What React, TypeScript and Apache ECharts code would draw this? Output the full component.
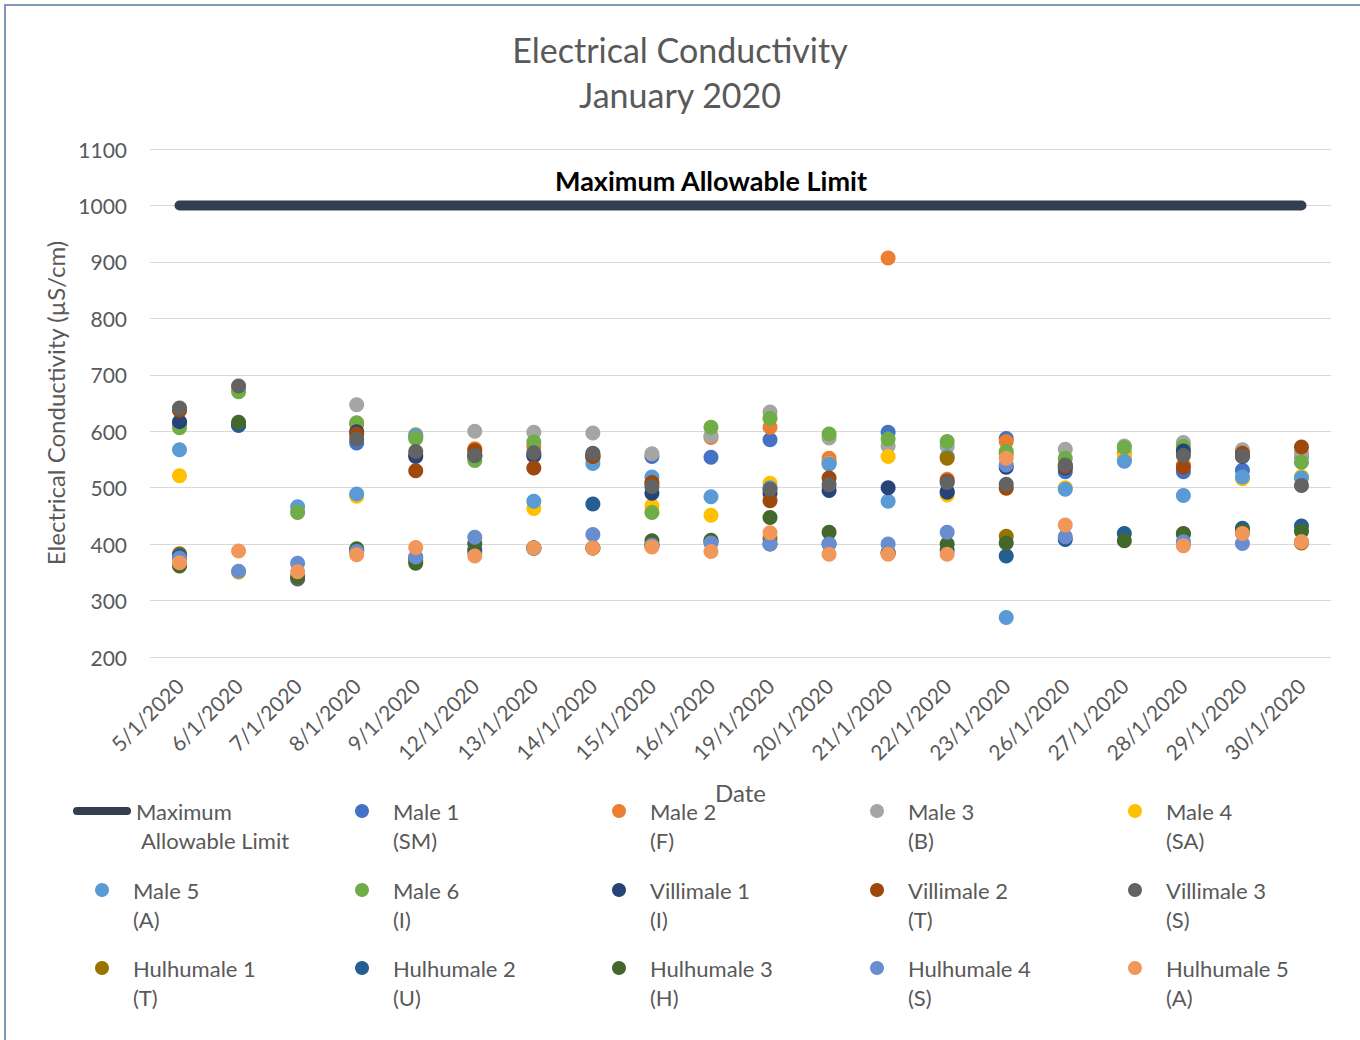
import React, { useEffect, useRef } from "react";
import * as echarts from "echarts";

const dates = ["5/1/2020", "6/1/2020", "7/1/2020", "8/1/2020", "9/1/2020", "12/1/2020", "13/1/2020", "14/1/2020", "15/1/2020", "16/1/2020", "19/1/2020", "20/1/2020", "21/1/2020", "22/1/2020", "23/1/2020", "26/1/2020", "27/1/2020", "28/1/2020", "29/1/2020", "30/1/2020"];

const limitName = "Maximum Allowable Limit";
const limitValues = [1000, 1000, 1000, 1000, 1000, 1000, 1000, 1000, 1000, 1000, 1000, 1000, 1000, 1000, 1000, 1000, 1000, 1000, 1000, 1000];

const male1 = [614, 610, null, 579, 558, 556, 556, 552, 555, 554, 585, 545, 598, 493, 587, 528, 550, 528, 531, 556];
const male2 = [637, null, null, 612, 590, 569, 573, 556, 507, 589, 607, 552, 907, 515, 582, 540, 561, 540, 560, 560];
const male3 = [640, 678, null, 647, 590, 600, 598, 597, 560, 592, 634, 588, 574, 573, 560, 568, 574, 580, 567, 560];
const male4 = [521, 350, null, 485, 594, 560, 463, 555, 468, 451, 508, 543, 555, 487, 560, 500, 555, 560, 516, 520];
const male5 = [567, null, 466, 489, 593, 555, 476, 543, 519, 484, 500, 542, 476, 555, 270, 497, 547, 486, 519, 517];
const male6 = [606, 670, 456, 615, 587, 548, 581, 560, 456, 607, 623, 595, 586, 582, 564, 552, 571, 573, 560, 545];
const villimale1 = [617, 612, null, 599, 555, 557, 558, 556, 490, null, 490, 495, 500, 492, 536, 535, null, 565, 555, null];
const villimale2 = [637, null, null, 595, 530, 566, 535, 555, 509, null, 477, 517, null, 512, 499, 537, null, 536, 561, 572];
const villimale3 = [641, 680, 338, 586, 564, 557, 562, 561, 502, null, 497, 505, null, 509, 506, 540, null, 557, 556, 504];
const hulhumale1 = [383, null, null, 388, 370, 385, 393, 393, 398, null, 410, null, null, 552, 414, null, null, 400, 420, 402];
const hulhumale2 = [380, 611, null, 390, 376, 390, 393, 471, 398, 404, 400, 400, 385, 389, 379, 408, 419, 418, 428, 432];
const hulhumale3 = [361, 616, 342, 392, 366, 401, 393, 393, 406, 407, 447, 421, 384, 400, 402, null, 406, 419, 423, 423];
const hulhumale4 = [375, 352, 366, 387, 377, 412, 392, 417, 398, 402, 400, 400, 400, 421, 540, 413, null, 404, 401, 404];
const hulhumale5 = [367, 388, 351, 381, 394, 379, 393, 393, 395, 387, 420, 382, 382, 382, 552, 434, null, 397, 419, 404];

const seriesNames = ["Male 1 (SM)", "Male 2 (F)", "Male 3 (B)", "Male 4 (SA)", "Male 5 (A)", "Male 6 (I)", "Villimale 1 (I)", "Villimale 2 (T)", "Villimale 3 (S)", "Hulhumale 1 (T)", "Hulhumale 2 (U)", "Hulhumale 3 (H)", "Hulhumale 4 (S)", "Hulhumale 5 (A)"];
const seriesData = [male1, male2, male3, male4, male5, male6, villimale1, villimale2, villimale3, hulhumale1, hulhumale2, hulhumale3, hulhumale4, hulhumale5];
const seriesColors = ["#4472C4", "#ED7D31", "#A5A5A5", "#FFC000", "#5B9BD5", "#70AD47", "#264478", "#9E480E", "#636363", "#997300", "#255E91", "#43682B", "#698ED0", "#F1975A"];

const FONT = "Lato";
const TXT = "#595959";

export default function App() {
  const ref = useRef<HTMLDivElement>(null);
  useEffect(() => {
    if (!ref.current) return;
    const chart = echarts.init(ref.current, undefined, { renderer: "svg" });

    const colX = [102, 362, 619, 877, 1135];
    const rowY = [811, 890, 968];
    const legendText = {
      color: TXT,
      fontFamily: FONT,
      fontSize: 22,
      lineHeight: 29,
      padding: [0, 0, 0, 19],
    };

    const legends: any[] = [
      {
        data: [limitName],
        left: 73,
        top: rowY[0] - 43.5,
        padding: 0,
        itemWidth: 58,
        itemHeight: 8,
        icon: "path://M4,0 L54,0 A4,4 0 0 1 54,8 L4,8 A4,4 0 0 1 4,0 Z",
        formatter: () => "\nMaximum\n Allowable Limit",
        textStyle: { ...legendText, padding: [0, 0, 0, 0] },
      },
    ];
    seriesNames.forEach((name, i) => {
      const cell = i + 1;
      const col = cell % 5;
      const row = Math.floor(cell / 5);
      legends.push({
        data: [name],
        left: colX[col] - 7,
        top: rowY[row] - 43.5,
        padding: 0,
        itemWidth: 14,
        itemHeight: 14,
        icon: "circle",
        formatter: (n: string) => "\n" + n.replace(" (", "\n("),
        textStyle: legendText,
      });
    });

    const scatterSeries = seriesNames.map((name, i) => ({
      name,
      type: "scatter",
      data: seriesData[i],
      symbol: "circle",
      symbolSize: 15,
      itemStyle: { color: seriesColors[i], opacity: 1 },
      z: 2,
    }));

    chart.setOption({
      animation: false,
      backgroundColor: "#ffffff",
      textStyle: { fontFamily: FONT },
      title: {
        text: "Electrical Conductivity\nJanuary 2020",
        left: "center",
        top: 27,
        padding: 0,
        textStyle: { color: TXT, fontFamily: FONT, fontSize: 34, fontWeight: "normal", lineHeight: 45 },
      },
      graphic: [
        {
          type: "rect",
          shape: { x: 5, y: 5, width: 1400, height: 1100 },
          style: { fill: "none", stroke: "#7F96B7", lineWidth: 2 },
          silent: true,
        },
      ],
      legend: legends,
      grid: { left: 150, right: 29, top: 149, bottom: 383, containLabel: false },
      xAxis: {
        type: "category",
        data: dates,
        boundaryGap: true,
        name: "Date",
        nameLocation: "middle",
        nameGap: 123,
        nameTextStyle: { color: TXT, fontFamily: FONT, fontSize: 24 },
        axisLine: { show: false },
        axisTick: { show: false },
        axisLabel: { rotate: 45, color: TXT, fontFamily: FONT, fontSize: 21, margin: 25, interval: 0 },
        splitLine: { show: false },
      },
      yAxis: {
        type: "value",
        min: 200,
        max: 1100,
        interval: 100,
        name: "Electrical Conductivity (µS/cm)",
        nameLocation: "middle",
        nameGap: 77,
        nameTextStyle: { color: TXT, fontFamily: FONT, fontSize: 24 },
        axisLine: { show: false },
        axisTick: { show: false },
        axisLabel: { color: TXT, fontFamily: FONT, fontSize: 21, margin: 23, formatter: (v: number) => String(v) },
        splitLine: { lineStyle: { color: "#D9D9D9", width: 1 } },
      },
      series: [
        {
          name: limitName,
          type: "line",
          data: limitValues.map((v, i) =>
            i === 9
              ? {
                  value: v,
                  label: {
                    show: true,
                    position: "top",
                    distance: 11,
                    formatter: limitName,
                    color: "#000000",
                    fontFamily: FONT,
                    fontSize: 27,
                    fontWeight: "bold",
                  },
                }
              : v
          ),
          symbol: "circle",
          symbolSize: 1,
          showSymbol: true,
          itemStyle: { color: "#333F50" },
          lineStyle: { color: "#333F50", width: 10, cap: "round" },
          z: 1,
        },
        ...scatterSeries,
      ],
    });
    return () => chart.dispose();
  }, []);
  return <div ref={ref} style={{ position: "fixed", left: 0, top: 0, width: 1360, height: 1040 }} />;
}
